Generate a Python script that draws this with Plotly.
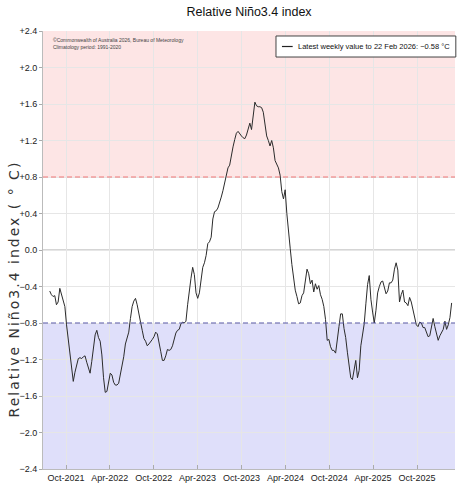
import pandas as pd
import plotly.graph_objects as go

# Weekly relative Niño3.4 values (°C), last week ending 22 Feb 2026
values = [
    -0.45, -0.49, -0.51, -0.50, -0.60, -0.57, -0.42, -0.49, -0.53, -0.62,
    -0.82, -0.98, -1.10, -1.28, -1.44, -1.34, -1.25, -1.19, -1.18, -1.19,
    -1.17, -1.16, -1.23, -1.30, -1.35, -1.22, -1.08, -0.93, -0.88, -0.96,
    -1.00, -1.15, -1.40, -1.56, -1.55, -1.44, -1.35, -1.37, -1.45, -1.48,
    -1.48, -1.46, -1.37, -1.27, -1.17, -1.03, -0.96, -0.90, -0.75, -0.62,
    -0.56, -0.53, -0.60, -0.71, -0.79, -0.88, -0.97, -1.00, -1.05, -1.03,
    -1.01, -0.98, -0.95, -0.90, -0.92, -1.00, -1.11, -1.21, -1.21, -1.16,
    -1.09, -1.10, -1.09, -1.05, -0.98, -0.91, -0.88, -0.87, -0.81, -0.79,
    -0.80, -0.78, -0.60, -0.43, -0.31, -0.19, -0.27, -0.47, -0.53, -0.47,
    -0.32, -0.19, -0.14, -0.06, 0.07, 0.09, 0.14, 0.34, 0.42, 0.43,
    0.46, 0.51, 0.58, 0.65, 0.74, 0.84, 0.90, 0.93, 1.05, 1.13,
    1.21, 1.28, 1.30, 1.27, 1.25, 1.23, 1.22, 1.26, 1.33, 1.39,
    1.32, 1.48, 1.62, 1.58, 1.57, 1.57, 1.56, 1.51, 1.37, 1.25,
    1.20, 1.14, 1.20, 1.12, 0.98, 0.93, 0.90, 0.82, 0.64, 0.56,
    0.66, 0.40, 0.16, 0.02, -0.16, -0.33, -0.44, -0.51, -0.59, -0.58,
    -0.50, -0.47, -0.33, -0.21, -0.26, -0.37, -0.33, -0.46, -0.37, -0.43,
    -0.39, -0.49, -0.54, -0.62, -0.76, -0.99, -0.98, -1.06, -1.10, -1.10,
    -1.13, -0.96, -0.84, -0.70, -0.70, -0.86, -0.96, -1.12, -1.28, -1.40,
    -1.42, -1.32, -1.21, -1.40, -1.32, -1.05, -0.90, -0.81, -0.59, -0.38,
    -0.28, -0.54, -0.68, -0.80, -0.66, -0.47, -0.40, -0.35, -0.34, -0.43,
    -0.48, -0.45, -0.36, -0.36, -0.33, -0.21, -0.14, -0.22, -0.57, -0.49,
    -0.44, -0.57, -0.58, -0.61, -0.52, -0.57, -0.65, -0.74, -0.82, -0.84,
    -0.79, -0.80, -0.85, -0.85, -0.90, -0.95, -0.94, -0.84, -0.75, -0.84,
    -0.93, -0.99, -0.94, -0.91, -0.87, -0.78, -0.87, -0.82, -0.74, -0.58,
]
last_date = "2026-02-22"
dates = pd.date_range(end=last_date, periods=len(values), freq="7D")
legend_text = "Latest weekly value to 22 Feb 2026: \u22120.58 \u00b0C"

x_tick_dates = ["2021-10-01", "2022-04-01", "2022-10-01", "2023-04-01", "2023-10-01",
                "2024-04-01", "2024-10-01", "2025-04-01", "2025-10-01"]
x_tick_labels = ["Oct-2021", "Apr-2022", "Oct-2022", "Apr-2023", "Oct-2023",
                 "Apr-2024", "Oct-2024", "Apr-2025", "Oct-2025"]
y_tick_vals = [2.4, 2.0, 1.6, 1.2, 0.8, 0.4, 0.0, -0.4, -0.8, -1.2, -1.6, -2.0, -2.4]
y_tick_labels = ["+2.4", "+2.0", "+1.6", "+1.2", "+0.8", "+0.4", "0.0",
                 "\u22120.4", "\u22120.8", "\u22121.2", "\u22121.6", "\u22122.0", "\u22122.4"]
el_nino_threshold = 0.8
la_nina_threshold = -0.8
x_range = ["2021-06-27", "2026-03-08"]
y_range = [-2.4, 2.4]

cond = "Liberation Sans Narrow, Liberation Sans, Arial, sans-serif"

fig = go.Figure()
fig.add_trace(go.Scatter(
    x=dates, y=values, mode="lines",
    line=dict(color="#2b2b2b", width=1),
    name=legend_text, showlegend=False,
))

# shaded threshold bands
fig.add_shape(type="rect", xref="paper", yref="y", x0=0, x1=1,
              y0=el_nino_threshold, y1=y_range[1],
              fillcolor="#fde5e5", line_width=0, layer="below")
fig.add_shape(type="rect", xref="paper", yref="y", x0=0, x1=1,
              y0=y_range[0], y1=la_nina_threshold,
              fillcolor="#dfdffa", line_width=0, layer="below")
fig.add_shape(type="line", xref="paper", yref="y", x0=0, x1=1,
              y0=el_nino_threshold, y1=el_nino_threshold,
              line=dict(color="#ee7777", width=1, dash="5px,3px"), layer="above")
fig.add_shape(type="line", xref="paper", yref="y", x0=0, x1=1,
              y0=la_nina_threshold, y1=la_nina_threshold,
              line=dict(color="#5555aa", width=1, dash="5px,3px"), layer="above")
fig.add_shape(type="line", xref="paper", yref="y", x0=0, x1=1, y0=0, y1=0,
              line=dict(color="#aaaaaa", width=1), layer="below")

# copyright / climatology note
fig.add_annotation(xref="paper", yref="paper", x=0.02, y=0.992, xanchor="left", yanchor="top",
                   text="\u00a9Commonwealth of Australia 2026, Bureau of Meteorology<br>Climatology period: 1991-2020",
                   showarrow=False, align="left",
                   font=dict(family=cond, size=5, color="#444"))

# legend box (drawn manually to get the short line sample)
fig.add_shape(type="rect", xref="paper", yref="paper", x0=0.5655, x1=1.002, y0=0.9406, y1=0.9886,
              fillcolor="white", line=dict(color="#444", width=1), layer="above")
fig.add_shape(type="line", xref="paper", yref="paper", x0=0.580, x1=0.606, y0=0.9646, y1=0.9646,
              line=dict(color="#222", width=1.2), layer="above")
fig.add_annotation(xref="paper", yref="paper", x=0.9935, y=0.9646, xanchor="right", yanchor="middle",
                   text=legend_text, showarrow=False,
                   font=dict(family=cond, size=7.5, color="#111"))

# y-axis title (placed like the original, slightly below centre)
fig.add_annotation(xref="paper", yref="paper", x=0, xshift=-29, y=0.41, xanchor="center",
                   yanchor="middle", textangle=-90, showarrow=False,
                   text="<span style='letter-spacing:2px'>Relative Ni\u00f1o3.4 index ( \u00b0 C)</span>",
                   font=dict(family="DejaVu Sans, Verdana, sans-serif", size=14, color="#333"))

fig.update_layout(
    width=457, height=483,
    margin=dict(l=43, r=2, t=31, b=14, autoexpand=False),
    paper_bgcolor="white", plot_bgcolor="white",
    title=dict(text="Relative Ni\u00f1o3.4 index", x=0.545, xanchor="center", y=0.975, yanchor="middle",
               font=dict(family=cond, size=12.5, color="#111")),
    showlegend=False,
)
fig.update_xaxes(
    range=x_range, tickmode="array", tickvals=x_tick_dates, ticktext=x_tick_labels,
    tickangle=0, automargin=False,
    showgrid=True, gridcolor="#e6e6e6", gridwidth=1,
    ticks="inside", ticklen=4, tickcolor="#aaaaaa",
    showline=True, linecolor="#bbbbbb", mirror=False,
    tickfont=dict(family=cond, size=9, color="#222"),
    zeroline=False,
)
fig.update_yaxes(
    range=y_range, tickmode="array", tickvals=y_tick_vals, ticktext=y_tick_labels,
    automargin=False,
    showgrid=True, gridcolor="#e6e6e6", gridwidth=1,
    ticks="outside", ticklen=3, tickcolor="#aaaaaa",
    showline=True, linecolor="#bbbbbb",
    tickfont=dict(family=cond, size=9, color="#222"),
    zeroline=False,
)

fig.write_html("out.html", config={"displayModeBar": False},
               post_script="document.body.style.margin='0px';")
